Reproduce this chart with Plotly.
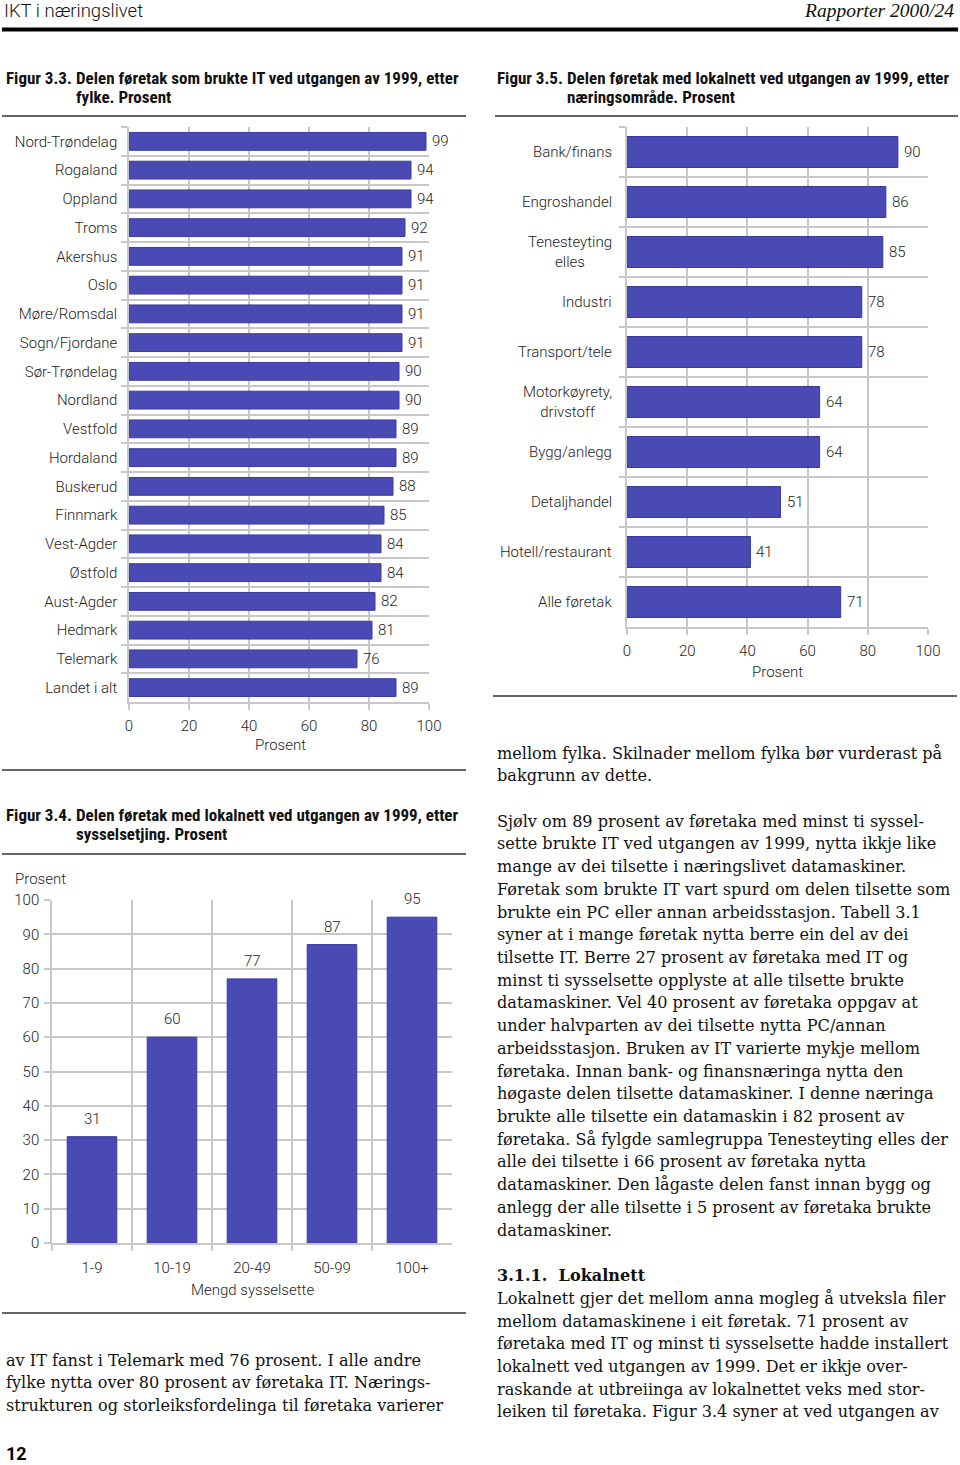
import plotly.graph_objects as go

# ---------------- data ----------------
fylke = ["Nord-Trøndelag", "Rogaland", "Oppland", "Troms", "Akershus", "Oslo",
         "Møre/Romsdal", "Sogn/Fjordane", "Sør-Trøndelag", "Nordland", "Vestfold",
         "Hordaland", "Buskerud", "Finnmark", "Vest-Agder", "Østfold", "Aust-Agder",
         "Hedmark", "Telemark", "Landet i alt"]
it_share = [99, 94, 94, 92, 91, 91, 91, 91, 90, 90, 89, 89, 88, 85, 84, 84, 82, 81, 76, 89]

naering = ["Bank/finans", "Engroshandel", "Tenesteyting<br>elles", "Industri",
           "Transport/tele", "Motorkøyrety,<br>drivstoff", "Bygg/anlegg",
           "Detaljhandel", "Hotell/restaurant", "Alle føretak"]
lan_naering = [90, 86, 85, 78, 78, 64, 64, 51, 41, 71]

storleik = ["1-9", "10-19", "20-49", "50-99", "100+"]
lan_storleik = [31, 60, 77, 87, 95]

x_ticks = [0, 20, 40, 60, 80, 100]
y_ticks3 = [0, 10, 20, 30, 40, 50, 60, 70, 80, 90, 100]

left_text = [
    "av IT fanst i Telemark med 76 prosent. I alle andre",
    "fylke nytta over 80 prosent av føretaka IT. Nærings-",
    "strukturen og storleiksfordelinga til føretaka varierer",
]
right_text = [
    "mellom fylka. Skilnader mellom fylka bør vurderast på",
    "bakgrunn av dette.",
    "",
    "Sjølv om 89 prosent av føretaka med minst ti syssel-",
    "sette brukte IT ved utgangen av 1999, nytta ikkje like",
    "mange av dei tilsette i næringslivet datamaskiner.",
    "Føretak som brukte IT vart spurd om delen tilsette som",
    "brukte ein PC eller annan arbeidsstasjon. Tabell 3.1",
    "syner at i mange føretak nytta berre ein del av dei",
    "tilsette IT. Berre 27 prosent av føretaka med IT og",
    "minst ti sysselsette opplyste at alle tilsette brukte",
    "datamaskiner. Vel 40 prosent av føretaka oppgav at",
    "under halvparten av dei tilsette nytta PC/annan",
    "arbeidsstasjon. Bruken av IT varierte mykje mellom",
    "føretaka. Innan bank- og finansnæringa nytta den",
    "høgaste delen tilsette datamaskiner. I denne næringa",
    "brukte alle tilsette ein datamaskin i 82 prosent av",
    "føretaka. Så fylgde samlegruppa Tenesteyting elles der",
    "alle dei tilsette i 66 prosent av føretaka nytta",
    "datamaskiner. Den lågaste delen fanst innan bygg og",
    "anlegg der alle tilsette i 5 prosent av føretaka brukte",
    "datamaskiner.",
    "",
    "<b>3.1.1.  Lokalnett</b>",
    "Lokalnett gjer det mellom anna mogleg å utveksla filer",
    "mellom datamaskinene i eit føretak. 71 prosent av",
    "føretaka med IT og minst ti sysselsette hadde installert",
    "lokalnett ved utgangen av 1999. Det er ikkje over-",
    "raskande at utbreiinga av lokalnettet veks med stor-",
    "leiken til føretaka. Figur 3.4 syner at ved utgangen av",
]

# ---------------- styling ----------------
W, H = 960, 1465
BAR = "#4a4ab4"
BAR_LINE = "#3b3b9c"
GRID = "#c8c8c8"
TXT = "#1e1e1e"
SANS = "Roboto, Open Sans, sans-serif"
TITLE_FONT = "Liberation Sans Narrow, Roboto Condensed, Roboto, sans-serif"
SERIF = "DejaVu Serif, serif"
FS = 15
LAB = dict(family=SANS, size=FS, color=TXT, weight=300)


def px(x):
    return x / W


def py(y):
    return 1 - y / H


fig = go.Figure()

# Figure 3.3
fig.add_trace(go.Bar(x=it_share, y=fylke, orientation="h", width=0.62,
                     marker=dict(color=BAR, line=dict(color=BAR_LINE, width=1)),
                     xaxis="x", yaxis="y", showlegend=False, hoverinfo="skip"))
# Figure 3.5
fig.add_trace(go.Bar(x=lan_naering, y=naering, orientation="h", width=0.62,
                     marker=dict(color=BAR, line=dict(color=BAR_LINE, width=1)),
                     xaxis="x2", yaxis="y2", showlegend=False, hoverinfo="skip"))
# Figure 3.4
fig.add_trace(go.Bar(x=storleik, y=lan_storleik, width=0.62,
                     marker=dict(color=BAR, line=dict(color=BAR_LINE, width=1)),
                     xaxis="x3", yaxis="y3", showlegend=False, hoverinfo="skip"))

axis_common = dict(showgrid=True, gridcolor=GRID, gridwidth=1.5,
                   showline=True, linecolor=GRID, linewidth=1.5,
                   ticks="outside", ticklen=6, tickcolor=GRID, tickwidth=1.5,
                   tickfont=LAB,
                   zeroline=False, fixedrange=True, automargin=False)

fig.update_layout(
    width=W, height=H, margin=dict(l=0, r=0, t=0, b=0, pad=0, autoexpand=False),
    paper_bgcolor="white", plot_bgcolor="white",
    xaxis=dict(domain=[px(129), px(429)], range=[0, 100], tickvals=x_ticks,
               anchor="y", ticklabelstandoff=3, **axis_common),
    yaxis=dict(domain=[py(702), py(127)], type="category", autorange="reversed",
               tickson="boundaries", anchor="x", ticklabelstandoff=7, **axis_common),
    xaxis2=dict(domain=[px(627), px(928)], range=[0, 100], tickvals=x_ticks,
                anchor="y2", ticklabelstandoff=3, **axis_common),
    yaxis2=dict(domain=[py(627), py(127)], type="category", autorange="reversed",
                tickson="boundaries", anchor="x2", showticklabels=False, **axis_common),
    xaxis3=dict(domain=[px(52), px(452)], type="category", tickson="boundaries",
                anchor="y3", ticklabelstandoff=10, **axis_common),
    yaxis3=dict(domain=[py(1243), py(900)], range=[0, 100], tickvals=y_ticks3,
                anchor="x3", ticklabelstandoff=2, **axis_common),
)

ann = []


def note(x, y, text, xanchor="left", font=None, **kw):
    d = dict(x=x, y=y, text=text, showarrow=False, xanchor=xanchor, yanchor="middle",
             font=font or LAB)
    d.update(kw)
    ann.append(d)


# value labels
for v, c in zip(it_share, fylke):
    note(v, c, str(v), xref="x", yref="y", xshift=4)
for v, c in zip(lan_naering, naering):
    note(v, c, str(v), xref="x2", yref="y2", xshift=4)
    note(px(614), c, c, xanchor="right", xref="paper", yref="y2", align="center")
for v, c in zip(lan_storleik, storleik):
    note(c, v, str(v), xanchor="center", xref="x3", yref="y3", yshift=18)

# axis titles
note(px(280), py(745), "Prosent", xanchor="center", xref="paper", yref="paper")
note(px(777), py(672), "Prosent", xanchor="center", xref="paper", yref="paper")
note(px(252), py(1290), "Mengd sysselsette", xanchor="center", xref="paper", yref="paper")
note(px(13), py(879), "Prosent", xref="paper", yref="paper")

# header
note(px(2), py(11), "IKT i næringslivet", xref="paper", yref="paper",
     font=dict(family=SANS, size=18.5, color="#111", weight=300))
note(px(956), py(11), "<i>Rapporter 2000/24</i>", xanchor="right", xref="paper", yref="paper",
     font=dict(family="Liberation Serif, serif", size=19.5, color="#111"))


# figure titles
def title(xn, xt, y1, num, l1, l2):
    tf = dict(family=TITLE_FONT, size=17, color="#111")
    note(px(xn), py(y1), "<b>" + num + "</b>", xref="paper", yref="paper", font=tf)
    note(px(xt), py(y1), "<b>" + l1 + "</b>", xref="paper", yref="paper", font=tf)
    note(px(xt), py(y1 + 19), "<b>" + l2 + "</b>", xref="paper", yref="paper", font=tf)


title(4, 74, 78, "Figur 3.3.", "Delen føretak som brukte IT ved utgangen av 1999, etter", "fylke. Prosent")
title(495, 565, 78, "Figur 3.5.", "Delen føretak med lokalnett ved utgangen av 1999, etter", "næringsområde. Prosent")
title(4, 74, 815, "Figur 3.4.", "Delen føretak med lokalnett ved utgangen av 1999, etter", "sysselsetjing. Prosent")

# body text
body_font = dict(family=SERIF, size=16.1, color="#111")
for i, line in enumerate(left_text):
    note(px(4), py(1360 + i * 22.7), line, xref="paper", yref="paper", font=body_font)
for i, line in enumerate(right_text):
    if line:
        note(px(495), py(753 + i * 22.72), line, xref="paper", yref="paper", font=body_font)

note(px(4), py(1453), "<b>12</b>", xref="paper", yref="paper",
     font=dict(family=SANS, size=18, color="#000"))

fig.update_layout(annotations=ann)

# rules
shapes = []


def hline(x0, x1, y, w=1.5, c="#333"):
    shapes.append(dict(type="line", xref="paper", yref="paper", x0=px(x0), x1=px(x1),
                       y0=py(y), y1=py(y), line=dict(color=c, width=w)))


hline(2, 958, 29.5, 4, "#000")
hline(2, 466, 116)
hline(495, 958, 116)
hline(2, 466, 770)
hline(493, 957, 696)
hline(2, 466, 854)
hline(2, 466, 1313)
fig.update_layout(shapes=shapes)

fig.write_html("out.html", config={"displayModeBar": False},
               post_script="document.body.style.margin='0';document.body.style.overflow='hidden';")
